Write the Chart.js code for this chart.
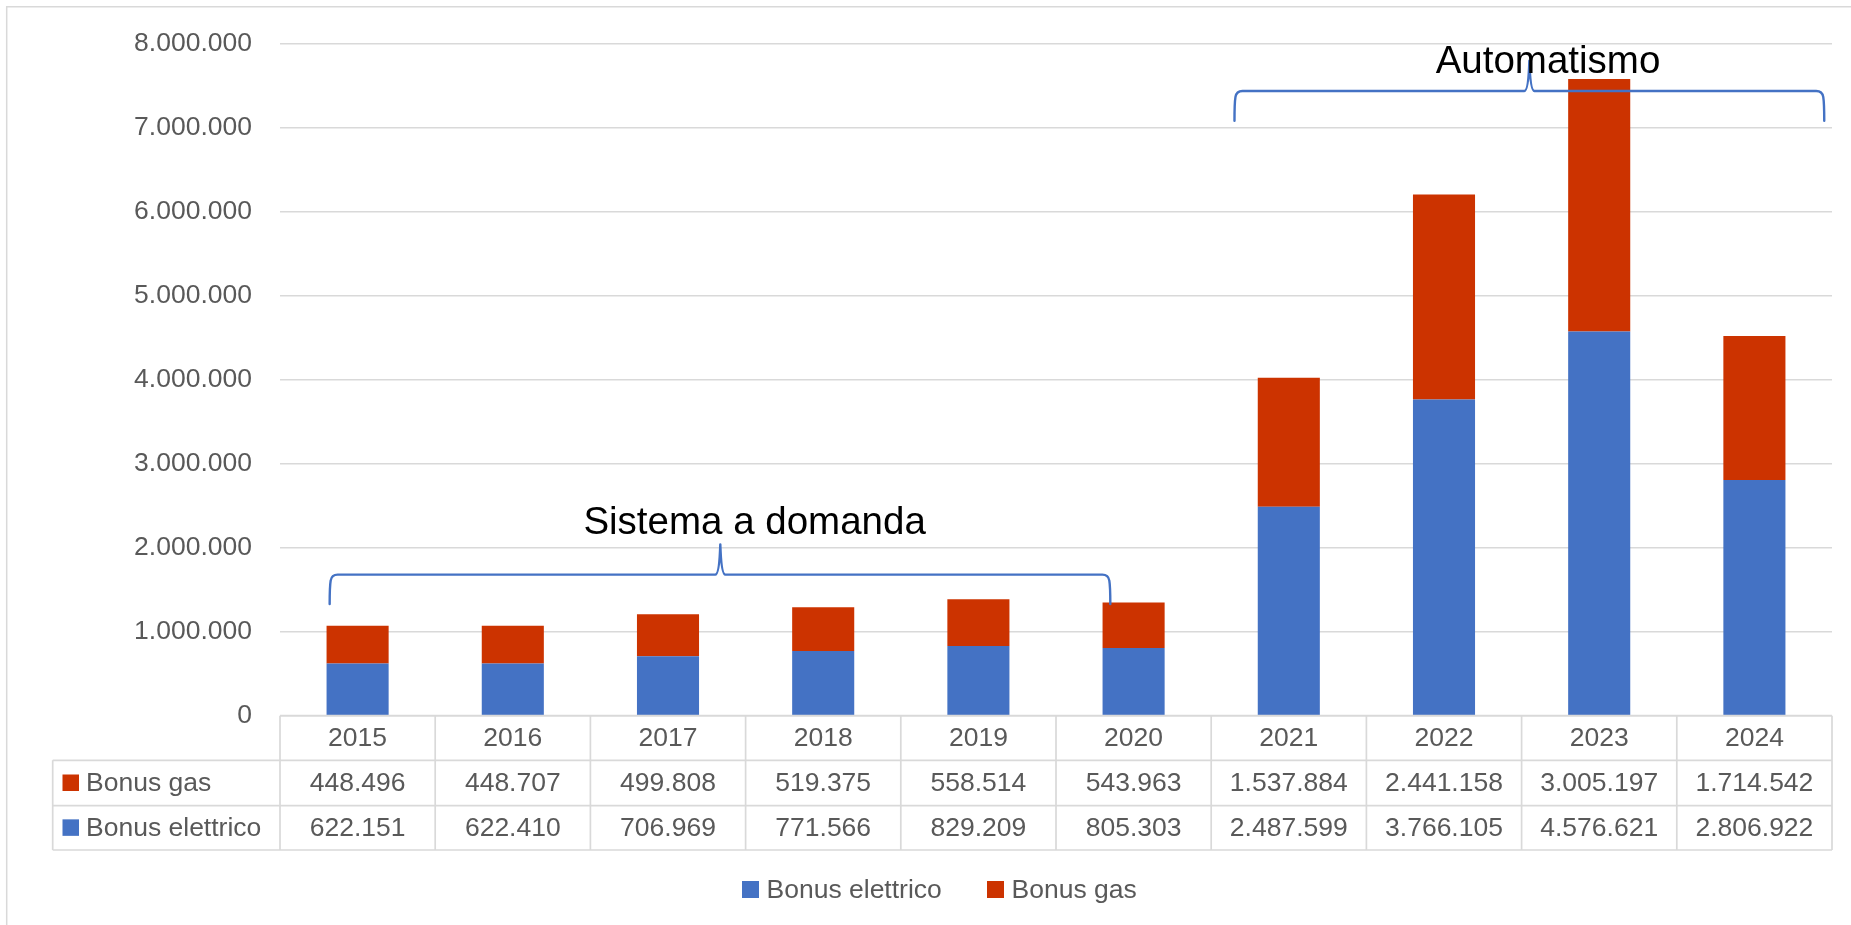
<!DOCTYPE html>
<html>
<head>
<meta charset="utf-8">
<script src="https://cdn.jsdelivr.net/npm/chart.js@4.4.1/dist/chart.umd.min.js"></script>
<style>
  html, body { margin: 0; padding: 0; background: #ffffff; }
  #wrap { width: 1851px; height: 925px; position: relative; }
  canvas { display: block; }
</style>
</head>
<body>
<div id="wrap"><canvas id="c" width="1851" height="925"></canvas></div>
<script>
// ---- data ----
const categories = ['2015', '2016', '2017', '2018', '2019', '2020', '2021', '2022', '2023', '2024'];
const bonusElettrico = [622151, 622410, 706969, 771566, 829209, 805303, 2487599, 3766105, 4576621, 2806922];
const bonusGas = [448496, 448707, 499808, 519375, 558514, 543963, 1537884, 2441158, 3005197, 1714542];
const yTickValues = [0, 1000000, 2000000, 3000000, 4000000, 5000000, 6000000, 7000000, 8000000];
const seriesNames = ['Bonus elettrico', 'Bonus gas'];
const annotationTexts = ['Sistema a domanda', 'Automatismo'];

// ---- styles ----
const BLUE = '#4472C4';
const RED = '#CC3300';
const GRID = '#d9d9d9';
const TXT = '#595959';
const FONT = '"Liberation Sans", Arial, sans-serif';
const FS = 26.5;

function fmt(n) {
  return String(n).replace(/\B(?=(\d{3})+(?!\d))/g, '.');
}

// annotation geometry, expressed relative to the category/value scales
const braces = [
  { from: [0, -0.18], to: [5, -0.15], peak: [2, 0.337], bottom: 1330000, horiz: 1680000, top: 2040000,
    text: annotationTexts[0], textX: [2, 0.558], textY: 2160000 },
  { from: [6, -0.35], to: [9, 0.45], peak: [7, 0.55], bottom: 7085000, horiz: 7440000, top: 7800000,
    text: annotationTexts[1], textX: [7, 0.67], textY: 7650000 }
];

const extrasPlugin = {
  id: 'extras',
  afterDraw(chart) {
    const ctx = chart.ctx;
    const xs = chart.scales.x, ys = chart.scales.y;
    const ca = chart.chartArea;
    const catW = xs.getPixelForValue(1) - xs.getPixelForValue(0);
    const px = (p) => xs.getPixelForValue(p[0]) + p[1] * catW;

    ctx.save();
    // outer frame (left & top visible)
    ctx.strokeStyle = GRID;
    ctx.lineWidth = 1.5;
    ctx.beginPath();
    ctx.moveTo(6.7, 925);
    ctx.lineTo(6.7, 6.7);
    ctx.lineTo(1851, 6.7);
    ctx.stroke();

    // ---- data table ----
    const tTop = ca.bottom;
    const rowH = [44.6, 45.4, 44.3];
    const r1 = tTop + rowH[0], r2 = r1 + rowH[1], r3 = r2 + rowH[2];
    const tLeft = 52.7;
    const colL = ca.left, colR = ca.right;
    ctx.strokeStyle = GRID;
    ctx.lineWidth = 1.7;
    ctx.beginPath();
    ctx.moveTo(colL, tTop); ctx.lineTo(colR, tTop);
    ctx.moveTo(tLeft, r1); ctx.lineTo(colR, r1);
    ctx.moveTo(tLeft, r2); ctx.lineTo(colR, r2);
    ctx.moveTo(tLeft, r3); ctx.lineTo(colR, r3);
    ctx.moveTo(tLeft, r1); ctx.lineTo(tLeft, r3);
    for (let i = 0; i <= categories.length; i++) {
      const xb = (i < categories.length) ? xs.getPixelForValue(i) - catW / 2 : xs.getPixelForValue(categories.length - 1) + catW / 2;
      ctx.moveTo(xb, tTop); ctx.lineTo(xb, r3);
    }
    ctx.stroke();

    ctx.font = FS + 'px ' + FONT;
    ctx.fillStyle = TXT;
    ctx.textAlign = 'center';
    ctx.textBaseline = 'middle';
    const rows = [
      { name: seriesNames[1], color: RED, values: bonusGas, yc: (r1 + r2) / 2 },
      { name: seriesNames[0], color: BLUE, values: bonusElettrico, yc: (r2 + r3) / 2 }
    ];
    categories.forEach((c, i) => {
      ctx.fillText(c, xs.getPixelForValue(i), (tTop + r1) / 2 + 1);
    });
    rows.forEach(r => {
      r.values.forEach((v, i) => {
        ctx.fillStyle = TXT;
        ctx.fillText(fmt(v), xs.getPixelForValue(i), r.yc + 1);
      });
      ctx.fillStyle = r.color;
      ctx.fillRect(62.5, r.yc - 8.5, 16.5, 16.5);
      ctx.fillStyle = TXT;
      ctx.textAlign = 'left';
      ctx.fillText(r.name, 86, r.yc + 1);
      ctx.textAlign = 'center';
    });

    // ---- legend ----
    const legY = 889.5;
    const legItems = [
      { name: seriesNames[0], color: BLUE, x: 742 },
      { name: seriesNames[1], color: RED, x: 987 }
    ];
    ctx.textAlign = 'left';
    legItems.forEach(it => {
      ctx.fillStyle = it.color;
      ctx.fillRect(it.x, legY - 8.5, 17, 17);
      ctx.fillStyle = TXT;
      ctx.fillText(it.name, it.x + 24.5, legY + 1);
    });

    // ---- braces & annotations ----
    ctx.strokeStyle = BLUE;
    ctx.lineWidth = 2.4;
    ctx.lineJoin = 'round';
    ctx.lineCap = 'round';
    braces.forEach(b => {
      const x0 = px(b.from), x1 = px(b.to), xp = px(b.peak);
      const yb = ys.getPixelForValue(b.bottom), yh = ys.getPixelForValue(b.horiz), yt = ys.getPixelForValue(b.top);
      const r = 6, rm = 5;
      ctx.beginPath();
      ctx.moveTo(x0, yb);
      ctx.quadraticCurveTo(x0, yh + r * 2, x0 + 1, yh + r);
      ctx.quadraticCurveTo(x0 + 2, yh, x0 + r + 2, yh);
      ctx.lineTo(xp - rm, yh);
      ctx.quadraticCurveTo(xp - 1, yh, xp, yt);
      ctx.quadraticCurveTo(xp + 1, yh, xp + rm, yh);
      ctx.lineTo(x1 - r - 2, yh);
      ctx.quadraticCurveTo(x1 - 2, yh, x1 - 1, yh + r);
      ctx.quadraticCurveTo(x1, yh + r * 2, x1, yb);
      ctx.stroke();

      ctx.fillStyle = '#000000';
      ctx.font = '38.5px ' + FONT;
      ctx.textAlign = 'center';
      ctx.textBaseline = 'alphabetic';
      ctx.fillText(b.text, px(b.textX), ys.getPixelForValue(b.textY));
    });
    ctx.restore();
  }
};

new Chart(document.getElementById('c'), {
  type: 'bar',
  data: {
    labels: categories,
    datasets: [
      { label: seriesNames[0], data: bonusElettrico, backgroundColor: BLUE, borderWidth: 0,
        barPercentage: 0.4, categoryPercentage: 1.0 },
      { label: seriesNames[1], data: bonusGas, backgroundColor: RED, borderWidth: 0,
        barPercentage: 0.4, categoryPercentage: 1.0 }
    ]
  },
  options: {
    responsive: false,
    animation: false,
    devicePixelRatio: 1,
    layout: { padding: { top: 38.3, right: 19, bottom: 209.3, left: 0 } },
    plugins: {
      legend: { display: false },
      tooltip: { enabled: false },
      title: { display: false }
    },
    scales: {
      x: {
        stacked: true,
        display: false,
        offset: true
      },
      y: {
        stacked: true,
        min: 0,
        max: 8000000,
        afterFit(scale) { scale.width = 280; },
        afterBuildTicks(scale) { scale.ticks = yTickValues.map(v => ({ value: v })); },
        grid: { color: GRID, lineWidth: 1.5, drawTicks: false },
        border: { display: false },
        ticks: {
          padding: 28,
          color: TXT,
          font: { family: FONT, size: FS },
          callback: (v) => fmt(v)
        }
      }
    }
  },
  plugins: [extrasPlugin]
});
</script>
</body>
</html>
